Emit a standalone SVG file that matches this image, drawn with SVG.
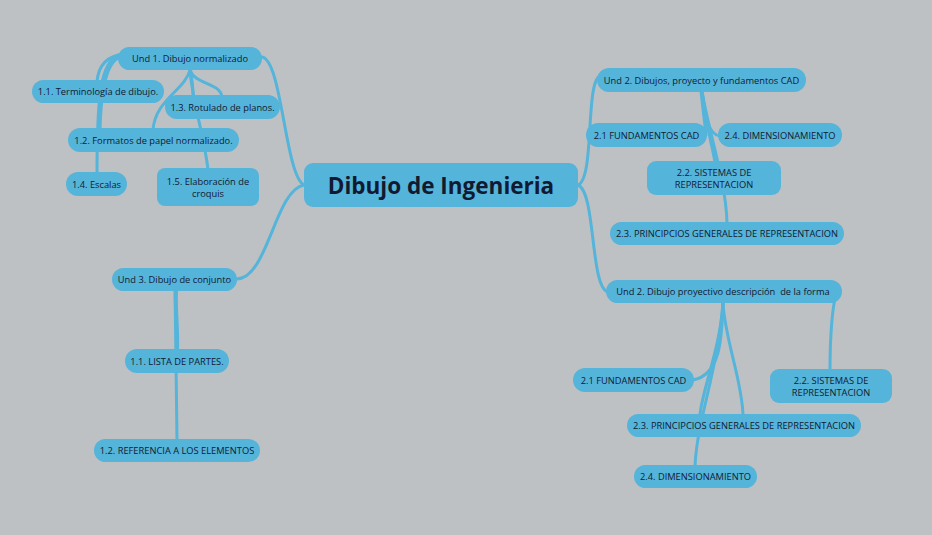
<svg xmlns="http://www.w3.org/2000/svg" width="932" height="535" viewBox="0 0 932 535">
<style>
.bg{fill:#bdc1c4}
.n rect{fill:#55b4da}
.c path{fill:none;stroke:#55b4da;stroke-width:3;stroke-linecap:round}
text{font-family:"Open Sans","DejaVu Sans",sans-serif;font-size:9.3px;fill:#111a30;text-anchor:middle}
.big{font-size:22.5px;font-weight:bold}
</style>
<rect class="bg" x="0" y="0" width="932" height="535"/>
<g id="connectors" class="c">
<path d="M304,185 C285,175 282,60 262,57"/>
<path d="M304,185 C275,190 268,278 237,279"/>
<path d="M578,185 C595,178 585,82 600,76"/>
<path d="M578,185 C596,192 590,288 608,292"/>
<path d="M124,54 C105,56 98,68 97,82"/>
<path d="M120,57 C106,62 101,90 100,130"/>
<path d="M118,56 C100,62 97,100 97,174"/>
<path d="M190,70 C192,78 193,88 193,97"/>
<path d="M190,70 C195,85 220,82 222,97"/>
<path d="M190,70 C192,100 205,140 208,170"/>
<path d="M190,70 C185,90 155,100 153,130"/>
<path d="M176,290 C175,310 178,330 177,350" style="stroke-width:4"/>
<path d="M175,290 C176,340 176,400 177,440"/>
<path d="M701,91 C703,110 705,125 706,135"/>
<path d="M702,91 C705,115 708,135 720,136"/>
<path d="M702,91 C705,120 712,145 715,162"/>
<path d="M702,91 C708,130 726,180 727,223"/>
<path d="M723,303 C722,340 720,375 693,380"/>
<path d="M723,303 C720,350 702,390 700,415"/>
<path d="M723,303 C725,340 742,380 743,415"/>
<path d="M723,303 C718,370 697,420 695,466"/>
<path d="M838,291 C832,300 830,340 830,370"/>
</g>
<g id="central" class="n"><rect x="304" y="163" width="274" height="44" rx="9"/><text class="big" x="441" y="194">Dibujo de Ingenieria</text></g>
<g id="und1" class="n"><rect x="118" y="47" width="144" height="23" rx="11.5"/><text x="190" y="62">Und 1. Dibujo normalizado</text></g>
<g id="n11" class="n"><rect x="32" y="80" width="132" height="23" rx="11.5"/><text x="98" y="95">1.1. Terminología de dibujo.</text></g>
<g id="n13" class="n"><rect x="165" y="95" width="115" height="24" rx="12"/><text x="222.5" y="110.5">1.3. Rotulado de planos.</text></g>
<g id="n12" class="n"><rect x="68" y="128" width="171" height="24" rx="12"/><text x="153.5" y="143.5">1.2. Formatos de papel normalizado.</text></g>
<g id="n14" class="n"><rect x="66" y="172" width="61" height="24" rx="12"/><text x="96.5" y="187.5">1.4. Escalas</text></g>
<g id="n15" class="n"><rect x="157" y="168" width="102" height="38" rx="8"/><text x="208" y="184.5">1.5. Elaboración de</text><text x="208" y="196.5">croquis</text></g>
<g id="und3" class="n"><rect x="112" y="268" width="125" height="23" rx="11.5"/><text x="174.5" y="283">Und 3. Dibujo de conjunto</text></g>
<g id="n31" class="n"><rect x="125" y="349" width="104" height="24" rx="12"/><text x="177" y="364.5">1.1. LISTA DE PARTES.</text></g>
<g id="n32" class="n"><rect x="94" y="439" width="166" height="23" rx="11.5"/><text x="177" y="454">1.2. REFERENCIA A LOS ELEMENTOS</text></g>
<g id="und2a" class="n"><rect x="597" y="68" width="209" height="24" rx="12"/><text x="701.5" y="83.5">Und 2. Dibujos, proyecto y fundamentos CAD</text></g>
<g id="a21" class="n"><rect x="586" y="123" width="121" height="24" rx="12"/><text x="646.5" y="138.5">2.1 FUNDAMENTOS CAD</text></g>
<g id="a24" class="n"><rect x="718" y="123" width="124" height="24" rx="12"/><text x="780" y="138.5">2.4. DIMENSIONAMIENTO</text></g>
<g id="a22" class="n"><rect x="647" y="161" width="134" height="34" rx="9"/><text x="714" y="175.5">2.2. SISTEMAS DE</text><text x="714" y="187.5">REPRESENTACION</text></g>
<g id="a23" class="n"><rect x="610" y="222" width="234" height="23" rx="11.5"/><text x="727" y="237">2.3. PRINCIPCIOS GENERALES DE REPRESENTACION</text></g>
<g id="und2b" class="n"><rect x="606" y="280" width="236" height="23" rx="11.5"/><text x="723" y="295" xml:space="preserve">Und 2. Dibujo proyectivo descripción  de la forma</text></g>
<g id="b21" class="n"><rect x="573" y="368" width="121" height="24" rx="12"/><text x="633.5" y="383.5">2.1 FUNDAMENTOS CAD</text></g>
<g id="b22" class="n"><rect x="770" y="369" width="122" height="34" rx="9"/><text x="831" y="384">2.2. SISTEMAS DE</text><text x="831" y="396">REPRESENTACION</text></g>
<g id="b23" class="n"><rect x="627" y="414" width="234" height="23" rx="11.5"/><text x="744" y="429">2.3. PRINCIPCIOS GENERALES DE REPRESENTACION</text></g>
<g id="b24" class="n"><rect x="634" y="465" width="123" height="23" rx="11.5"/><text x="695.5" y="480">2.4. DIMENSIONAMIENTO</text></g>
</svg>
